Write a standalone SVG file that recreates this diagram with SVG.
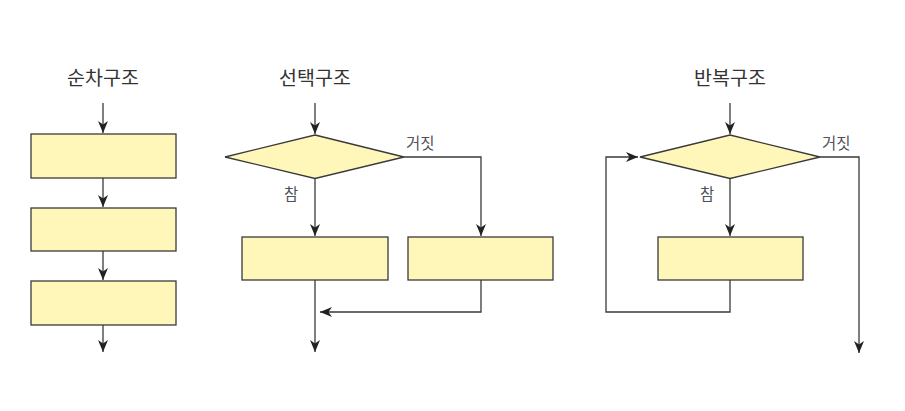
<svg xmlns="http://www.w3.org/2000/svg" width="905" height="411" viewBox="0 0 905 411">
<defs>
<style>
.box{fill:#fff7b9;stroke:#3a3a3a;stroke-width:1.3}
.ln{fill:none;stroke:#3a3a3a;stroke-width:1.3}
.title{font-family:"Noto Sans CJK KR","Noto Sans",sans-serif;font-size:19.5px;fill:#333;text-anchor:middle}
.lbl{font-family:"Noto Sans CJK KR","Noto Sans",sans-serif;font-size:15.5px;fill:#50505a}
</style>
<marker id="ah" viewBox="0 0 12 10" refX="12" refY="5" markerWidth="12" markerHeight="10" markerUnits="userSpaceOnUse" orient="auto">
<path d="M0,0 L12,5 L0,10 L3.5,5 Z" fill="#222"/>
</marker>
</defs>
<rect width="905" height="411" fill="#fff"/>

<g id="titles">
<text class="title" x="103" y="85">순차구조</text>
<text class="title" x="315" y="85">선택구조</text>
<text class="title" x="730" y="85">반복구조</text>
</g>

<g id="seq-box1"><rect class="box" x="31" y="134" width="145" height="44"/></g>
<g id="seq-box2"><rect class="box" x="31" y="208" width="145" height="43"/></g>
<g id="seq-box3"><rect class="box" x="31" y="281" width="145" height="44"/></g>

<g id="sel-cond"><polygon class="box" points="315,135 404,157 315,178.5 225,157"/></g>
<g id="sel-true"><rect class="box" x="242" y="237" width="146" height="43"/></g>
<g id="sel-false"><rect class="box" x="408" y="237" width="145" height="43"/></g>

<g id="loop-cond"><polygon class="box" points="730,135 820,157 730,178.5 640,157"/></g>
<g id="loop-body"><rect class="box" x="658" y="237" width="145" height="43"/></g>

<g id="connectors">
<line class="ln" x1="103" y1="103" x2="103" y2="133" marker-end="url(#ah)"/>
<line class="ln" x1="103" y1="178" x2="103" y2="207" marker-end="url(#ah)"/>
<line class="ln" x1="103" y1="251" x2="103" y2="280" marker-end="url(#ah)"/>
<line class="ln" x1="103" y1="325" x2="103" y2="352" marker-end="url(#ah)"/>

<line class="ln" x1="315" y1="103" x2="315" y2="134" marker-end="url(#ah)"/>
<polyline class="ln" points="404,157 481,157 481,236" marker-end="url(#ah)"/>
<line class="ln" x1="315" y1="178.5" x2="315" y2="236" marker-end="url(#ah)"/>
<line class="ln" x1="315" y1="280" x2="315" y2="352" marker-end="url(#ah)"/>
<polyline class="ln" points="481,280 481,312 320,312" marker-end="url(#ah)"/>

<line class="ln" x1="730" y1="103" x2="730" y2="134" marker-end="url(#ah)"/>
<polyline class="ln" points="820,157 859,157 859,353" marker-end="url(#ah)"/>
<line class="ln" x1="730" y1="178.5" x2="730" y2="236" marker-end="url(#ah)"/>
<polyline class="ln" points="730,280 730,312 606,312 606,157 638,157" marker-end="url(#ah)"/>
</g>

<g id="labels">
<text class="lbl" x="406" y="149">거짓</text>
<text class="lbl" x="284" y="200">참</text>
<text class="lbl" x="822" y="149">거짓</text>
<text class="lbl" x="700" y="200">참</text>
</g>
</svg>
